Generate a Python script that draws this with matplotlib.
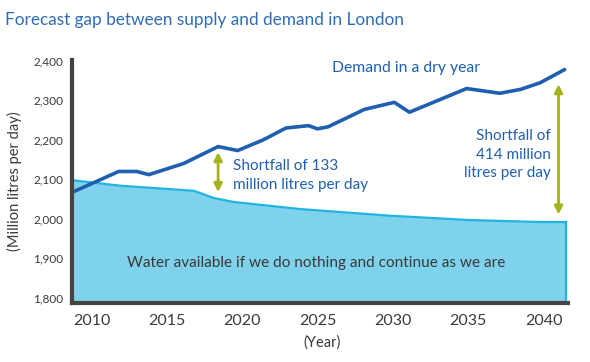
import matplotlib.pyplot as plt

plt.rcParams['font.family'] = ['Lato', 'DejaVu Sans']

# dati
demand_years = [2008.7, 2011.8, 2013.0, 2013.8, 2016.1, 2018.4, 2019.7, 2021.4, 2022.9,
                2024.4, 2025.0, 2025.7, 2028.1, 2029.2, 2030.1, 2031.1, 2034.9, 2037.1,
                2038.5, 2039.8, 2041.4]
demand = [2067, 2120, 2120, 2112, 2140, 2183, 2173, 2200, 2230,
          2236, 2228, 2233, 2277, 2287, 2295, 2270, 2330, 2318,
          2328, 2345, 2378]

supply_years = [2008.7, 2011.9, 2016.8, 2018.1, 2019.4, 2023.8, 2029.8, 2035.1, 2039.8, 2041.5]
supply = [2098, 2084, 2071, 2053, 2043, 2025, 2008, 1997, 1992, 1992]

x_ticks = [2010, 2015, 2020, 2025, 2030, 2035, 2040]
y_ticks = [1800, 1900, 2000, 2100, 2200, 2300, 2400]

blue_dark = '#1f5fb0'
blue_line = '#22b4e0'
blue_fill = '#7fd2ec'
green = '#a4b21c'
grey = '#3a3a3a'

fig = plt.figure(figsize=(5.9, 3.62), dpi=100)
ax = fig.add_axes([0.122, 0.163, 0.840, 0.671])

ymin = 1787
ax.fill_between(supply_years, supply, ymin, color=blue_fill, lw=0)
ax.plot(supply_years, supply, color=blue_line, lw=1.6)
ax.plot([supply_years[-1], supply_years[-1]], [ymin, supply[-1]], color=blue_line, lw=1.6)
ax.plot(demand_years, demand, color=blue_dark, lw=2.6, solid_capstyle='round')

# frecce shortfall
ax.annotate('', xy=(2018.4, 2061), xytext=(2018.4, 2176),
            arrowprops=dict(arrowstyle='<|-|>', color=green, lw=2, mutation_scale=12))
ax.annotate('', xy=(2041.0, 2004), xytext=(2041.0, 2348),
            arrowprops=dict(arrowstyle='<|-|>', color=green, lw=2, mutation_scale=12))

ax.text(2019.4, 2110, 'Shortfall of 133\nmillion litres per day', color=blue_dark,
        fontsize=11, va='center', ha='left', linespacing=1.4)
ax.text(2040.5, 2162, 'Shortfall of\n414 million\nlitres per day', color=blue_dark,
        fontsize=11, va='center', ha='right', linespacing=1.4)
ax.text(2030.9, 2383, 'Demand in a dry year', color=blue_dark, fontsize=11.3,
        ha='center', va='center')
ax.text(2024.9, 1888, 'Water available if we do nothing and continue as we are', color=grey,
        fontsize=11.1, ha='center', va='center')

ax.set_xlim(2008.7, 2041.6)
ax.set_ylim(ymin, 2402)
ax.set_xticks(x_ticks)
ax.set_xticklabels([str(t) for t in x_ticks], fontsize=11.5, color=grey)
ax.set_yticks(y_ticks)
ax.set_yticklabels([f'{t:,}' for t in y_ticks], fontsize=8.5, color=grey)
ax.tick_params(length=0, pad=6)
ax.tick_params(axis='x', pad=8)

for s in ['top', 'right']:
    ax.spines[s].set_visible(False)
for s in ['left', 'bottom']:
    ax.spines[s].set_color('#444444')
    ax.spines[s].set_linewidth(3)

ax.set_ylabel('(Million litres per day)', fontsize=10.5, color=grey, labelpad=8)
fig.text(0.546, 0.055, '(Year)', fontsize=10.5, color=grey, ha='center', va='center')
fig.text(0.008, 0.945, 'Forecast gap between supply and demand in London', color='#2f6db6',
         fontsize=12.4, ha='left', va='center')

fig.savefig('out.png', dpi=100)
